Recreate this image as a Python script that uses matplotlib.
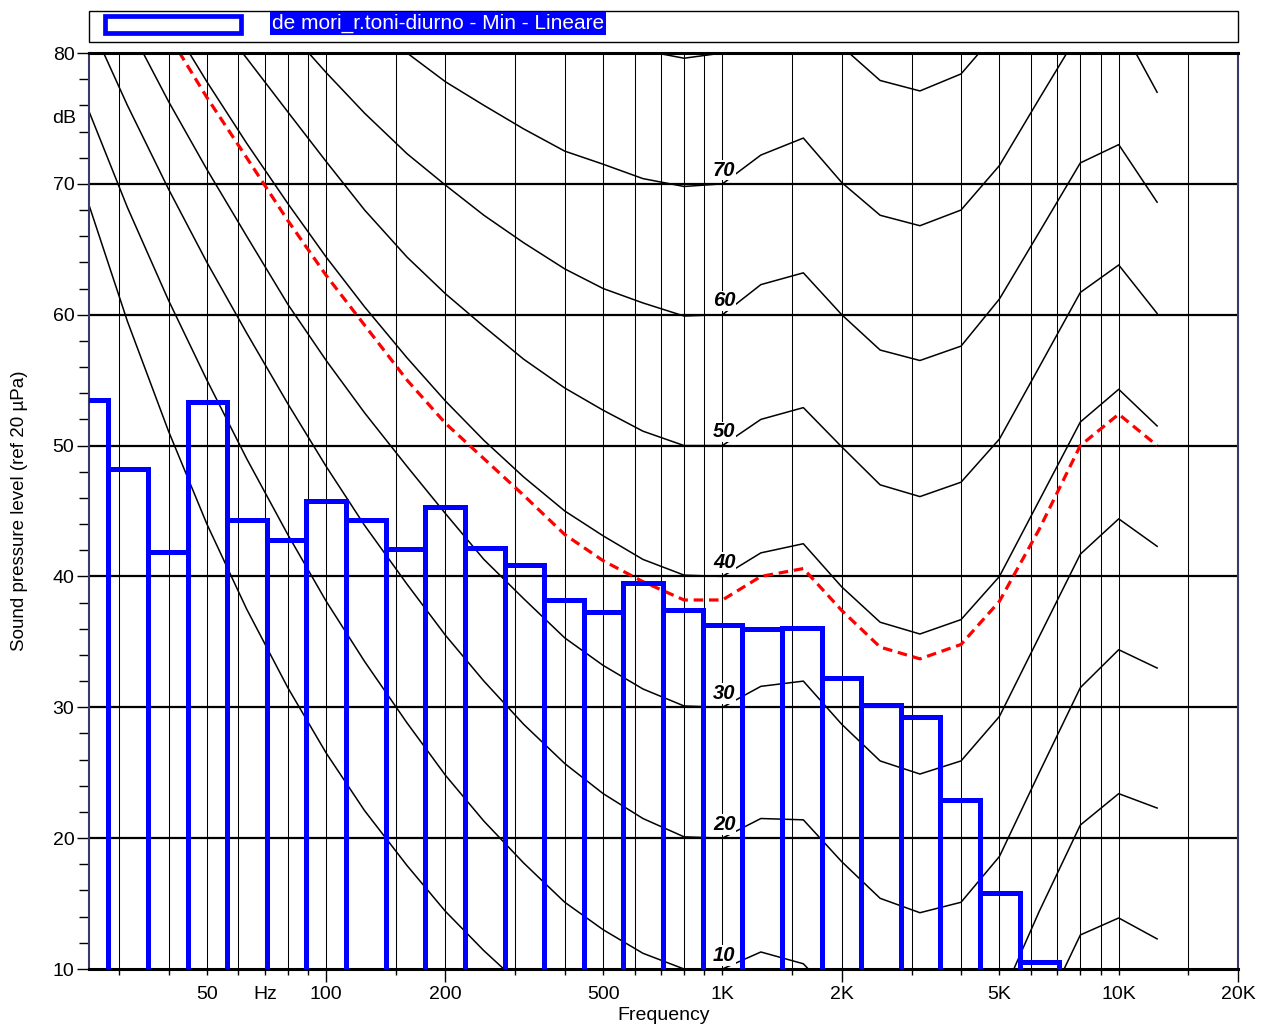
import numpy as np
import matplotlib
matplotlib.use("Agg")
import matplotlib.pyplot as plt
from matplotlib.patches import Rectangle

plt.rcParams['font.family'] = ['Liberation Sans', 'DejaVu Sans']

# 1/3 octave frequencies of the loudness contours (Hz)
freqs = [25, 31.5, 40, 50, 63, 80, 100, 125, 160, 200, 250, 315, 400, 500, 630,
         800, 1000, 1250, 1600, 2000, 2500, 3150, 4000, 5000, 6300, 8000, 10000, 12500]

# equal loudness contours (dB)
threshold = [68.7, 59.5, 51.1, 44.0, 37.5, 31.5, 26.5, 22.1, 17.9, 14.4, 11.4, 8.6, 6.2, 4.4, 3.0,
             2.2, 2.4, 3.5, 1.7, -1.3, -4.2, -6.0, -5.4, -1.5, 6.0, 12.6, 13.9, 12.3]
phon10 = [75.8, 68.2, 61.1, 55.0, 49.0, 43.2, 38.1, 33.5, 28.8, 24.8, 21.3, 18.1, 15.1, 13.0, 11.2,
          10.0, 10.0, 11.3, 10.4, 7.3, 4.5, 3.0, 3.8, 7.5, 14.4, 21.0, 23.4, 22.3]
phon20 = [82.7, 76.0, 69.6, 64.0, 58.6, 53.2, 48.4, 43.9, 39.4, 35.5, 32.0, 28.7, 25.7, 23.4, 21.5,
          20.1, 20.0, 21.5, 21.4, 18.2, 15.4, 14.3, 15.1, 18.6, 25.0, 31.5, 34.4, 33.0]
phon30 = [88.3, 82.3, 76.3, 71.1, 66.0, 60.8, 56.5, 52.5, 48.4, 44.8, 41.3, 38.3, 35.3, 33.2, 31.4,
          30.1, 30.0, 31.6, 32.0, 28.7, 25.9, 24.9, 25.9, 29.3, 35.4, 41.7, 44.4, 42.3]
phon40 = [93.9, 88.2, 82.6, 77.8, 73.1, 68.5, 64.4, 60.6, 56.7, 53.4, 50.4, 47.6, 45.0, 43.1, 41.3,
          40.1, 40.0, 41.8, 42.5, 39.2, 36.5, 35.6, 36.7, 40.0, 45.8, 51.8, 54.3, 51.5]
phon50 = [99.0, 94.0, 88.6, 83.5, 79.6, 75.5, 71.7, 68.0, 64.4, 61.6, 59.1, 56.6, 54.4, 52.7, 51.1,
          50.0, 50.0, 52.0, 52.9, 49.9, 47.0, 46.1, 47.2, 50.5, 56.0, 61.7, 63.8, 60.1]
phon60 = [104.0, 99.5, 95.0, 90.5, 86.0, 81.8, 78.5, 75.4, 72.3, 69.9, 67.6, 65.5, 63.5, 62.0, 60.9,
          59.9, 60.0, 62.3, 63.2, 60.0, 57.3, 56.5, 57.6, 61.2, 66.3, 71.6, 73.0, 68.6]
phon70 = [108.5, 104.0, 99.5, 95.5, 92.0, 89.0, 86.0, 82.8, 80.0, 77.8, 76.0, 74.2, 72.5, 71.5, 70.4,
          69.8, 70.0, 72.2, 73.5, 70.1, 67.6, 66.8, 68.0, 71.4, 76.5, 81.7, 82.4, 77.0]
phon80 = [113.0, 109.0, 104.5, 100.5, 96.5, 93.0, 90.0, 87.5, 85.5, 84.8, 84.0, 83.0, 82.2, 81.2, 80.2,
          79.6, 80.0, 82.2, 83.6, 80.5, 77.9, 77.1, 78.4, 81.8, 86.5, 91.5, 92.5, 87.5]
contour_levels = [10, 20, 30, 40, 50, 60, 70]

# red dashed reference contour
red_curve = [92.7, 87.0, 81.4, 76.6, 72.0, 67.2, 63.0, 59.2, 55.0, 51.7, 49.0, 46.2, 43.2, 41.2, 39.6,
             38.2, 38.2, 40.0, 40.6, 37.4, 34.6, 33.7, 34.8, 38.1, 43.6, 50.0, 52.4, 50.0]

# measured spectrum, 1/3 octave bands
bands = [25, 31.5, 40, 50, 63, 80, 100, 125, 160, 200, 250, 315, 400, 500, 630, 800,
         1000, 1250, 1600, 2000, 2500, 3150, 4000, 5000, 6300, 8000, 10000, 12500, 16000, 20000]
levels = [53.5, 48.2, 41.9, 53.3, 44.3, 42.8, 45.8, 44.3, 42.1, 45.3, 42.2, 40.9, 38.2, 37.3, 39.5, 37.4,
          36.3, 36.0, 36.05, 32.2, 30.2, 29.25, 22.9, 15.8, 10.55, 8.5, 7.5, 6.5, 6.0, 5.5]

grid_freqs = [30, 40, 50, 60, 70, 80, 90, 100, 150, 200, 300, 400, 500, 600, 700, 800, 900,
              1000, 1500, 2000, 3000, 4000, 5000, 6000, 7000, 8000, 9000, 10000, 15000]

fig = plt.figure(figsize=(12.63, 10.30), dpi=100)
ax = fig.add_axes([89 / 1263, 1 - 969 / 1030, 1149 / 1263, 916 / 1030])
ax.set_xscale('log')
ax.set_xlim(25.2, 20000)
ax.set_ylim(10, 80)

for f in grid_freqs:
    ax.axvline(f, color='black', lw=0.75, zorder=1)
for v in range(20, 80, 10):
    ax.axhline(v, color='black', lw=1.6, zorder=1)

for curve in [threshold, phon10, phon20, phon30, phon40, phon50, phon60, phon70, phon80]:
    ax.plot(freqs, curve, color='black', lw=1.1, zorder=2)

ax.plot(freqs, red_curve, color='#ff0000', lw=2.3, ls=(0, (3, 1.8)), zorder=2.5)

# bars: 1/3 octave band edges
n = np.round(10 * np.log10(bands))
lo = 10 ** ((n - 0.5) / 10)
hi = 10 ** ((n + 0.5) / 10)
ax.bar(lo, levels, width=hi - lo, align='edge', fill=False, edgecolor='#0000ff',
       linewidth=3.6, zorder=3)

for lv in contour_levels:
    ax.text(1010, lv + 1.05, str(lv), ha='center', va='center', fontsize=14.5,
            fontweight='bold', style='italic', zorder=5,
            bbox=dict(facecolor='white', edgecolor='none', pad=0.6))

# axes styling
for side in ['top', 'bottom']:
    ax.spines[side].set_linewidth(2.2)
    ax.spines[side].set_color('black')
for side in ['left', 'right']:
    ax.spines[side].set_linewidth(1.5)
    ax.spines[side].set_color('#3a3a6a')

ax.set_yticks(range(10, 81, 10))
ax.set_yticks(range(10, 81, 2), minor=True)
ax.tick_params(axis='y', which='major', direction='out', length=8.5, width=1, labelsize=14, pad=2)
ax.tick_params(axis='y', which='minor', direction='out', length=7, width=1)

major_x = [100, 200, 2000, 20000]
major_lab = ['100', '200', '2K', '20K']
minor_x = [30, 40, 50, 60, 70, 80, 90, 150, 300, 400, 500, 600, 700, 800, 900, 1000,
           1500, 3000, 4000, 5000, 6000, 7000, 8000, 9000, 10000, 15000]
minor_lab = ['', '', '50', '', 'Hz', '', '', '', '', '', '500', '', '', '', '', '1K',
             '', '', '', '5K', '', '', '', '', '10K', '']
ax.set_xticks(major_x)
ax.set_xticklabels(major_lab)
ax.set_xticks(minor_x, minor=True)
ax.set_xticklabels(minor_lab, minor=True)
ax.tick_params(axis='x', which='major', direction='out', length=9, width=1, labelsize=14, pad=3)
ax.tick_params(axis='x', which='minor', direction='out', length=4.5, width=1, labelsize=14, pad=7.5)

ax.text(-0.0115, 75, 'dB', transform=ax.get_yaxis_transform(), ha='right', va='center', fontsize=14)
ax.set_ylabel('Sound pressure level (ref 20 µPa)', fontsize=13.5)
ax.yaxis.set_label_coords(-0.053, 0.5)
ax.set_xlabel('Frequency', fontsize=14)
ax.xaxis.set_label_coords(0.5, -0.041)

# legend box
fig.add_artist(Rectangle((89 / 1263, 1 - 42 / 1030), 1149 / 1263, 31 / 1030,
                         transform=fig.transFigure, fill=False, ec='black', lw=1))
fig.add_artist(Rectangle((105 / 1263, 1 - 32.5 / 1030), 136 / 1263, 17 / 1030,
                         transform=fig.transFigure, fill=False, ec='#0000ff', lw=3.4))
fig.text(272 / 1263, 1 - 23.5 / 1030, 'de mori_r.toni-diurno - Min - Lineare', color='white',
         fontsize=15, ha='left', va='center',
         bbox=dict(facecolor='#0000ff', edgecolor='none', pad=1.2))

fig.savefig('out.png', dpi=100)
